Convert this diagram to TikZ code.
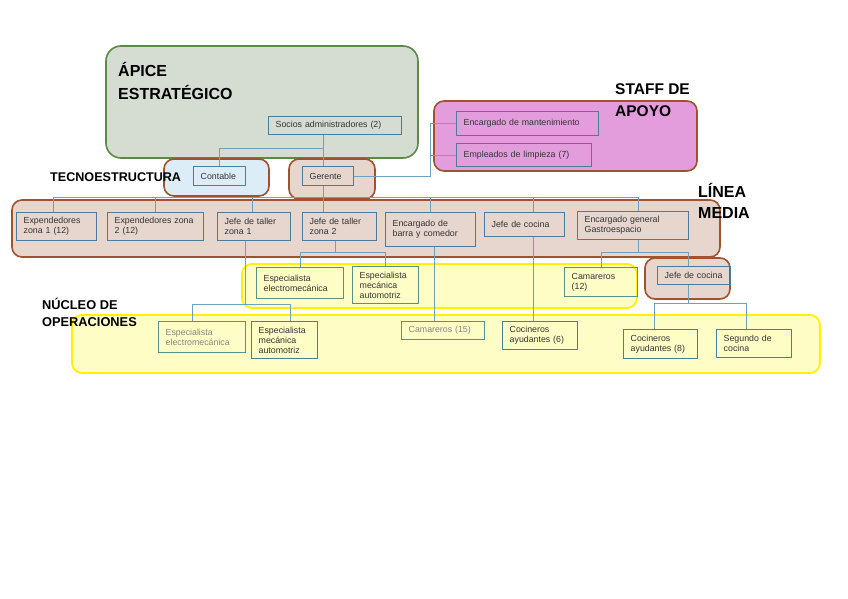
\documentclass[tikz,border=0pt]{standalone}
\usepackage{fontspec}
\setmainfont{Liberation Sans}
\definecolor{boxblue}{HTML}{4A7C9B}
\definecolor{boxteal}{HTML}{5A8F8A}
\definecolor{conncol}{HTML}{6FA0BC}
\definecolor{txt}{HTML}{333333}
\definecolor{txtgray}{HTML}{858585}
\definecolor{apexfill}{HTML}{D5DDD2}
\definecolor{apexline}{HTML}{5B8A43}
\definecolor{brownline}{HTML}{A0522D}
\definecolor{brownfill}{HTML}{E6D6CE}
\definecolor{bluefill}{HTML}{DCEDF8}
\definecolor{pinkfill}{HTML}{E39CDC}
\definecolor{yelfill}{HTML}{FFFDC6}
\definecolor{yelline}{HTML}{FFF200}
\tikzset{
  box/.style={draw=boxblue, line width=1.4pt, inner xsep=7pt, inner ysep=2pt,
    align=left, font=\fontsize{8.8}{10}\selectfont, text=txt},
  tealbox/.style={draw=boxteal},
  graytext/.style={text=txtgray},
  conn/.style={draw=conncol, line width=1pt},
  region/.style={line width=1.6pt, rounded corners=10pt},
  title/.style={anchor=base west, inner sep=0pt, font=\fontsize{16}{18}\selectfont\bfseries, text=black},
  smalltitle/.style={anchor=base west, inner sep=0pt, font=\fontsize{12.8}{14}\selectfont\bfseries, text=black}
}
\newcommand\orgbox[7]{%
  \pgfmathsetmacro\bw{#5-#3}\pgfmathsetmacro\bh{#6-#4}\pgfmathsetmacro\tw{#5-#3-14}%
  \node[box,#2,anchor=north west,minimum width=\bw pt,minimum height=\bh pt,text width=\tw pt] (#1) at (#3,#4) {#7};}
\begin{document}
\begin{tikzpicture}[x=1pt,y=-1pt]
\useasboundingbox (0,0) rectangle (848,599);
\fill[white] (0,0) rectangle (848,599);
% regions
\draw[region, rounded corners=15pt, fill=apexfill, draw=apexline] (106,46) rectangle (418,158);
\draw[region, fill=pinkfill, draw=brownline] (434,101) rectangle (697,171);
\draw[region, fill=bluefill, draw=brownline] (164,159) rectangle (269,196);
\draw[region, fill=brownfill, draw=brownline] (289,159) rectangle (375,199);
\draw[region, fill=brownfill, draw=brownline] (12,200) rectangle (720,257);
\draw[region, line width=1.8pt, fill=yelfill, draw=yelline] (242,264) rectangle (637,308);
\draw[region, fill=brownfill, draw=brownline] (645,258) rectangle (730,299);
\draw[region, line width=1.8pt, fill=yelfill, draw=yelline] (72,315) rectangle (820,373);
% titles
\node[title] (t1) at (118,77) {ÁPICE};
\node[title] (t2) at (118,100) {ESTRATÉGICO};
\node[title, font=\fontsize{15.5}{18}\selectfont\bfseries] (t3) at (615,95) {STAFF DE};
\node[title, font=\fontsize{15.5}{18}\selectfont\bfseries] (t4) at (615,117) {APOYO};
\node[title] (t5) at (698,197) {LÍNEA};
\node[title] (t6) at (698,218) {MEDIA};
\node[smalltitle, font=\fontsize{12.6}{14}\selectfont\bfseries] (t7) at (50,181) {TECNOESTRUCTURA};
\node[smalltitle] (t8) at (42,309) {NÚCLEO DE};
\node[smalltitle] (t9) at (42,326) {OPERACIONES};
% boxes
\orgbox{socios}{}{268}{116}{401}{134}{Socios administradores (2)}
\orgbox{mant}{}{456}{111}{598}{135}{Encargado de mantenimiento}
\orgbox{limp}{}{456}{143}{591}{166}{Empleados de limpieza (7)}
\orgbox{contable}{}{193}{166}{245}{185}{Contable}
\orgbox{gerente}{}{302}{166}{353}{185}{Gerente}
\orgbox{exp1}{}{16}{212}{96}{240}{Expendedores\\zona 1 (12)}
\orgbox{exp2}{}{107}{212}{203}{240}{Expendedores zona\\2 (12)}
\orgbox{jt1}{}{217}{212}{290}{240}{Jefe de taller\\zona 1}
\orgbox{jt2}{}{302}{212}{376}{240}{Jefe de taller\\zona 2}
\orgbox{barra}{}{385}{212}{475}{246}{Encargado de\\barra y comedor}
\orgbox{jc}{}{484}{212}{564}{236}{Jefe de cocina}
\orgbox{eg}{}{577}{211}{688}{239}{Encargado general\\Gastroespacio}
\orgbox{se1}{tealbox}{256}{267}{343}{298}{Especialista\\electromecánica}
\orgbox{sm1}{tealbox}{352}{266}{418}{303}{Especialista\\mecánica\\automotriz}
\orgbox{cam12}{tealbox}{564}{267}{637}{296}{Camareros\\(12)}
\orgbox{jc2}{}{657}{266}{730}{284}{Jefe de cocina}
\orgbox{se2}{tealbox,graytext}{158}{321}{245}{352}{Especialista\\electromecánica}
\orgbox{sm2}{}{251}{321}{317}{358}{Especialista\\mecánica\\automotriz}
\orgbox{cam15}{tealbox,graytext}{401}{321}{484}{339}{Camareros (15)}
\orgbox{coc6}{}{502}{321}{577}{349}{Cocineros\\ayudantes (6)}
\orgbox{coc8}{}{623}{329}{697}{358}{Cocineros\\ayudantes (8)}
\orgbox{seg}{}{716}{329}{791}{357}{Segundo de\\cocina}
% junction coordinates
\coordinate (jS) at (323,148);
\coordinate (bus) at (0,197);
\coordinate (xs) at (430,0);
\coordinate (y2) at (0,252);
\coordinate (y1) at (0,304);
\coordinate (x1a) at (245,0);
\coordinate (x1b) at (192,0);
\coordinate (x1c) at (290,0);
\coordinate (xb) at (434,0);
\coordinate (xjc) at (533,0);
\coordinate (xeg) at (638,0);
\coordinate (xc2) at (688,0);
\coordinate (y4) at (0,303);
\coordinate (xc8) at (654,0);
\coordinate (xsg) at (746,0);
% connectors
\draw[conn] (socios.south -| jS) -- (jS) -| (contable.north);
\draw[conn] (jS) -- (gerente.north -| jS);
\draw[conn] (gerente.south -| jS) -- (jt2.north -| jS);
\draw[conn] (gerente.east) -- (gerente.east -| xs) |- (mant.west);
\draw[conn] (limp.west -| xs) -- (limp.west);
\draw[conn] ([xshift=-3pt]exp1.north |- bus) -- (bus -| xeg);
\draw[conn] ([xshift=-3pt]exp1.north |- bus) -- ([xshift=-3pt]exp1.north);
\draw[conn] (exp2.north |- bus) -- (exp2.north);
\draw[conn] ([xshift=-2pt]jt1.north |- bus) -- ([xshift=-2pt]jt1.north);
\draw[conn] (barra.north |- bus) -- (barra.north);
\draw[conn] (bus -| xjc) -- (jc.north -| xjc);
\draw[conn] (bus -| xeg) -- (eg.north -| xeg);
% zona 2 -> upper specialists
\draw[conn] (jt2.south -| 335,0) -- (y2 -| 335,0);
\draw[conn] (se1.north) |- (y2 -| sm1.north) -- (sm1.north);
% zona 1 -> lower specialists
\draw[conn] (jt1.south -| x1a) -- (y1 -| x1a);
\draw[conn] (se2.north -| x1b) |- (y1 -| x1c) -- (sm2.north -| x1c);
% barra -> camareros 15
\draw[conn] (barra.south -| xb) -- (cam15.north -| xb);
% jefe de cocina -> cocineros 6
\draw[conn] (jc.south -| xjc) -- (coc6.north -| xjc);
% encargado general -> camareros 12, jefe de cocina
\draw[conn] (eg.south -| xeg) -- (y2 -| xeg);
\draw[conn] (cam12.north) |- (y2 -| xc2) -- (jc2.north -| xc2);
% jefe de cocina 2 -> cocineros 8, segundo
\draw[conn] (jc2.south -| xc2) -- (y4 -| xc2);
\draw[conn] (coc8.north -| xc8) |- (y4 -| xsg) -- (seg.north -| xsg);
\end{tikzpicture}
\end{document}
